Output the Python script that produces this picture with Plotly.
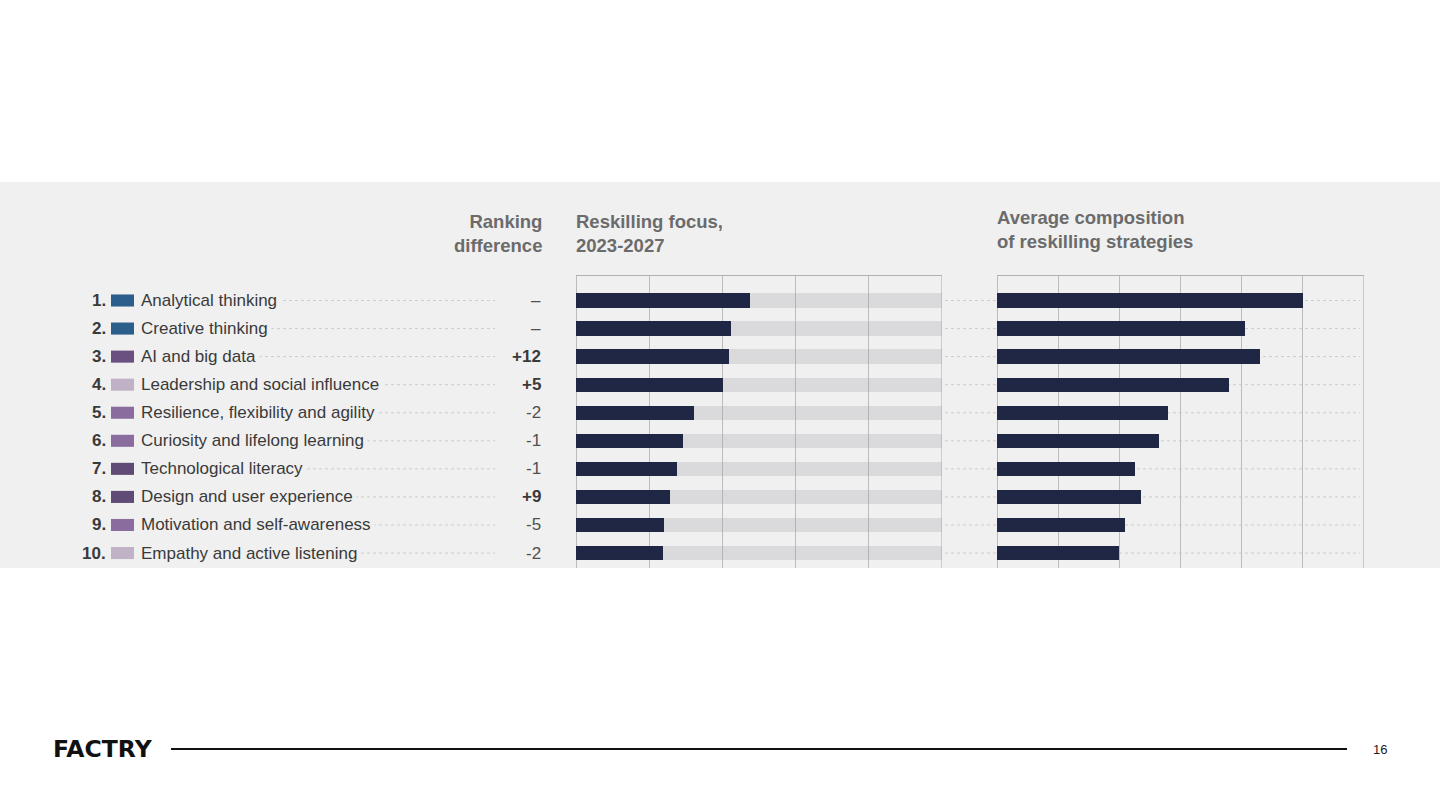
import plotly.graph_objects as go

# ---------------- data ----------------
skills = [
    "Analytical thinking",
    "Creative thinking",
    "AI and big data",
    "Leadership and social influence",
    "Resilience, flexibility and agility",
    "Curiosity and lifelong learning",
    "Technological literacy",
    "Design and user experience",
    "Motivation and self-awareness",
    "Empathy and active listening",
]
ranks = ["1.", "2.", "3.", "4.", "5.", "6.", "7.", "8.", "9.", "10."]
swatch_colors = ["#2c5e8b", "#2c5e8b", "#6a5080", "#c0b1c7", "#8b6c9f",
                 "#8b6c9f", "#5f4b75", "#5f4b75", "#8b6c9f", "#c1b3c7"]
ranking_diff = ["–", "–", "+12", "+5", "-2", "-1", "-1", "+9", "-5", "-2"]
reskilling_focus = [47.5, 42.4, 41.7, 40.3, 32.2, 29.3, 27.5, 25.7, 24.0, 23.9]
focus_max = 100
avg_composition = [25.0, 20.25, 21.5, 19.0, 14.0, 13.25, 11.25, 11.75, 10.5, 10.0]
composition_max = 30

# ---------------- layout helpers ----------------
W, H = 1440, 810
def px(x):
    return x / W
def py(y):
    return 1 - y / H

FONT = "Liberation Sans, Arial, Helvetica, sans-serif"
PANEL = "#f0f0f0"
DARK = "#1f2744"
GRID = "#bcbcbc"
TXT = "#3a3a3a"
HEAD = "#6b6b6b"

n = len(skills)
yrange = [9.533, -0.873]

fig = go.Figure()

# background track (left chart)
fig.add_trace(go.Bar(
    y=skills, x=[focus_max] * n, orientation="h",
    marker=dict(color="rgba(160,160,168,0.28)", line=dict(width=0)),
    width=0.51, xaxis="x", yaxis="y", hoverinfo="skip", showlegend=False))
fig.add_trace(go.Bar(
    y=skills, x=reskilling_focus, orientation="h",
    marker=dict(color=DARK, line=dict(width=0)),
    width=0.51, xaxis="x", yaxis="y", showlegend=False, name="Reskilling focus"))
fig.add_trace(go.Bar(
    y=skills, x=avg_composition, orientation="h",
    marker=dict(color=DARK, line=dict(width=0)),
    width=0.51, xaxis="x2", yaxis="y2", showlegend=False, name="Average composition"))

shapes = []
# grey panel
shapes.append(dict(type="rect", xref="paper", yref="paper", x0=0, x1=1,
                   y0=py(568), y1=py(182), fillcolor=PANEL, line=dict(width=0),
                   layer="below"))
# right-hand frame lines of both charts
shapes.append(dict(type="line", xref="x", yref="y domain", x0=focus_max, x1=focus_max,
                   y0=0, y1=1, line=dict(color=GRID, width=1), layer="below"))
shapes.append(dict(type="line", xref="x2", yref="y2 domain", x0=composition_max, x1=composition_max,
                   y0=0, y1=1, line=dict(color=GRID, width=1), layer="below"))
annotations = []

for i, s in enumerate(skills):
    # leader dots on left
    shapes.append(dict(type="line", xref="paper", yref="y", x0=px(145), x1=px(495),
                       y0=i, y1=i, line=dict(color="#cdcdcd", width=1, dash="dot"),
                       layer="below"))
    # leader dots between / across right chart
    shapes.append(dict(type="line", xref="paper", yref="y", x0=px(945), x1=px(1360),
                       y0=i, y1=i, line=dict(color="#cdcdcd", width=1, dash="dot"),
                       layer="below"))
    # swatch
    shapes.append(dict(type="rect", xref="paper", yref="y", x0=px(111), x1=px(134),
                       y0=i - 0.215, y1=i + 0.215, fillcolor=swatch_colors[i],
                       line=dict(width=0)))
    annotations.append(dict(xref="paper", yref="y", x=px(107.5), y=s, text="<b>%s</b>" % ranks[i],
                            xanchor="right", yanchor="middle", showarrow=False,
                            font=dict(family=FONT, size=17, color=TXT)))
    annotations.append(dict(xref="paper", yref="y", x=px(137), y=s, text=s,
                            xanchor="left", yanchor="middle", showarrow=False,
                            bgcolor=PANEL, borderpad=3,
                            font=dict(family=FONT, size=17, color=TXT)))
    d = ranking_diff[i]
    txt = "<b>%s</b>" % d if d.startswith("+") else d
    annotations.append(dict(xref="paper", yref="y", x=px(545), y=s, text=txt,
                            xanchor="right", yanchor="middle", showarrow=False,
                            bgcolor=PANEL, borderpad=3,
                            font=dict(family=FONT, size=17, color=TXT if d.startswith("+") else "#505050")))

# headers
annotations.append(dict(xref="paper", yref="paper", x=px(544), y=py(233),
                        text="<b>Ranking<br>difference</b>", align="right",
                        xanchor="right", yanchor="middle", showarrow=False,
                        font=dict(family=FONT, size=18.5, color=HEAD)))
annotations.append(dict(xref="paper", yref="paper", x=px(574), y=py(233),
                        text="<b>Reskilling focus,<br>2023-2027</b>", align="left",
                        xanchor="left", yanchor="middle", showarrow=False,
                        font=dict(family=FONT, size=18.5, color=HEAD)))
annotations.append(dict(xref="paper", yref="paper", x=px(995), y=py(230),
                        text="<b>Average composition<br>of reskilling strategies</b>", align="left",
                        xanchor="left", yanchor="middle", showarrow=False,
                        font=dict(family=FONT, size=18.5, color=HEAD)))

# footer
shapes.append(dict(type="line", xref="paper", yref="paper", x0=px(171), x1=px(1347),
                   y0=py(749), y1=py(749), line=dict(color="#111111", width=2)))
annotations.append(dict(xref="paper", yref="paper", x=px(51), y=py(749),
                        text="<b>FACTRY</b>", xanchor="left", yanchor="middle",
                        showarrow=False,
                        font=dict(family="DejaVu Sans, sans-serif", size=23.5, color="#111111")))
annotations.append(dict(xref="paper", yref="paper", x=px(1380), y=py(749),
                        text="16", xanchor="center", yanchor="middle",
                        showarrow=False,
                        font=dict(family=FONT, size=13, color="#222222")))

axis_common = dict(showticklabels=False, ticks="", showgrid=True, gridcolor=GRID,
                   gridwidth=1, zeroline=True, zerolinecolor=GRID, zerolinewidth=1,
                   showline=True, linecolor="#b0b0b0", linewidth=1, side="top",
                   fixedrange=True)

fig.update_layout(
    width=W, height=H,
    margin=dict(l=0, r=0, t=0, b=0),
    paper_bgcolor="white",
    plot_bgcolor="rgba(0,0,0,0)",
    barmode="overlay",
    bargap=0,
    showlegend=False,
    xaxis=dict(domain=[px(576), px(942)], range=[0, 100.05], dtick=20, anchor="y", **axis_common),
    xaxis2=dict(domain=[px(997), px(1364)], range=[0, 30.02], dtick=5, anchor="y2", **axis_common),
    yaxis=dict(domain=[py(568), py(276)], range=yrange, type="category",
               showticklabels=False, showgrid=False, zeroline=False, anchor="x", fixedrange=True),
    yaxis2=dict(domain=[py(568), py(276)], range=yrange, type="category",
                showticklabels=False, showgrid=False, zeroline=False, anchor="x2", fixedrange=True),
    shapes=shapes,
    annotations=annotations,
)

fig.write_html("out.html",
               config={"displayModeBar": False},
               post_script="document.body.style.margin='0';document.body.style.overflow='hidden';")
